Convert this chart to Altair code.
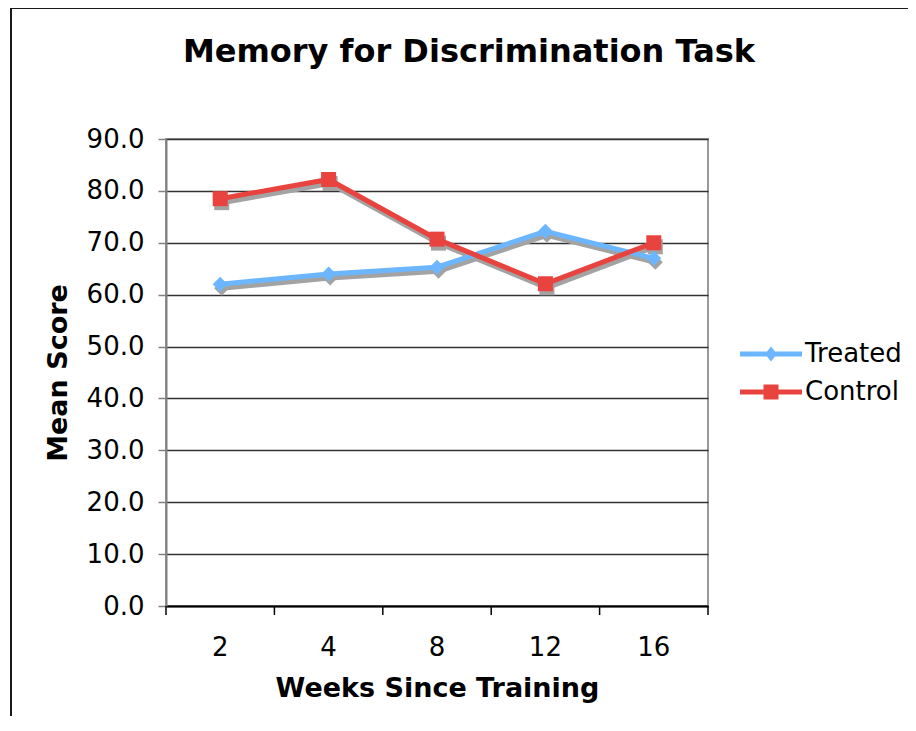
import altair as alt
import pandas as pd

# ---- data ----
weeks = ["2", "4", "8", "12", "16"]
treated = [62.0, 64.0, 65.3, 72.2, 67.0]
control = [78.5, 82.2, 70.7, 62.1, 70.0]
series_names = ["Treated", "Control"]
series_colors = ["#6CB6FF", "#E8433F"]
series_shapes = ["diamond", "square"]
y_ticks = [0, 10, 20, 30, 40, 50, 60, 70, 80, 90]

rows = []
for s, vals in zip(series_names, [treated, control]):
    for w, v in zip(weeks, vals):
        rows.append({"week": w, "series": s, "score": v})
df = pd.DataFrame(rows)
week_df = pd.DataFrame({"week": weeks})

W, H = 542, 467
FONT = "DejaVu Sans"

xscale = alt.Scale(type="band", domain=weeks, paddingInner=0, paddingOuter=0)
yscale = alt.Scale(domain=[0, 90], nice=False, zero=True)

x_axis = alt.Axis(
    title="Weeks Since Training", ticks=False, tickSize=0, labelPadding=28,
    labelAngle=0, labelFontSize=26, labelFont=FONT, labelColor="#000",
    domainColor="#000", domainWidth=2, grid=False,
    titleFont=FONT, titleFontSize=27, titleFontWeight="bold", titleColor="#000",
    titlePadding=15,
)
y_axis = alt.Axis(
    title="Mean Score", values=y_ticks, format=".1f", tickSize=8,
    tickColor="#808080", tickWidth=1.5, labelPadding=14, labelFontSize=26,
    labelFont=FONT, labelColor="#000", domainColor="#808080", domainWidth=2,
    grid=True, gridColor="#333333", gridWidth=1.5,
    titleFont=FONT, titleFontSize=27, titleFontWeight="bold", titleColor="#000",
    titlePadding=14,
)

X = alt.X("week:N", scale=xscale, axis=x_axis)
Y = alt.Y("score:Q", scale=yscale, axis=y_axis)

base = alt.Chart(df)

# decorative outer frame of the chart
frame = alt.Chart(alt.InlineData(values=[{"f": 1}])).mark_rect(
    fillOpacity=0, stroke="#1a1a1a", strokeWidth=2
).encode(
    x=alt.value(-155), x2=alt.value(900), y=alt.value(-131), y2=alt.value(800)
)

layers = [frame]

# x ticks at band boundaries
ticks_start = alt.Chart(week_df).mark_rule(color="#000", strokeWidth=1.5).encode(
    x=alt.X("week:N", scale=xscale, bandPosition=0, axis=x_axis),
    y=alt.value(H), y2=alt.value(H + 9),
)
ticks_end = alt.Chart(week_df).transform_filter(
    alt.datum.week == weeks[-1]
).mark_rule(color="#000", strokeWidth=1.5).encode(
    x=alt.X("week:N", scale=xscale, bandPosition=1, axis=x_axis),
    y=alt.value(H), y2=alt.value(H + 9),
)
layers += [ticks_start, ticks_end]

# shadows
for s, shp in zip(series_names, series_shapes):
    sub = base.transform_filter(alt.datum.series == s)
    layers.append(sub.mark_line(color="#A3A3A3", strokeWidth=5, xOffset=1.5, yOffset=4).encode(x=X, y=Y))
    layers.append(sub.mark_point(shape=shp, filled=True, size=225, color="#A3A3A3",
                                 opacity=1, xOffset=1.5, yOffset=4).encode(x=X, y=Y))

# series lines and markers
for s, col, shp in zip(series_names, series_colors, series_shapes):
    sub = base.transform_filter(alt.datum.series == s)
    layers.append(sub.mark_line(color=col, strokeWidth=5).encode(x=X, y=Y))
    layers.append(sub.mark_point(shape=shp, filled=True, size=225, color=col, opacity=1).encode(x=X, y=Y))

# legend carrier (no marks drawn)
path_treated = "M-3.1,-0.25L3.1,-0.25L3.1,0.25L-3.1,0.25Z M0,-0.75L0.6,0L0,0.75L-0.6,0Z"
path_control = "M-3.1,-0.25L3.1,-0.25L3.1,0.25L-3.1,0.25Z M-0.75,-0.75L0.75,-0.75L0.75,0.75L-0.75,0.75Z"
legend_layer = base.transform_filter("false").mark_point(filled=True, opacity=1).encode(
    color=alt.Color("series:N", scale=alt.Scale(domain=series_names, range=series_colors),
                    legend=alt.Legend(
                        title=None, orient="none", legendX=592, legendY=202,
                        symbolSize=400, symbolStrokeWidth=0, symbolOpacity=1,
                        labelFont=FONT, labelFontSize=26, labelColor="#000",
                        labelOffset=21, rowPadding=12, padding=0,
                    )),
    shape=alt.Shape("series:N", scale=alt.Scale(domain=series_names,
                                                range=[path_treated, path_control])),
)
layers.append(legend_layer)

chart = alt.layer(*layers).properties(
    width=W, height=H,
    title=alt.Title("Memory for Discrimination Task", font=FONT, fontSize=32,
                    fontWeight="bold", color="#000", anchor="middle", frame="group",
                    dx=32, offset=-62),
    autosize=alt.AutoSizeParams(type="none"),
    padding={"left": 158, "top": 131, "right": 200, "bottom": 110},
).configure(
    background="white",
    view=alt.ViewConfig(fill="#D6D6D6", stroke="#9A9A9A", strokeWidth=2),
)

chart.save("out.html", embed_options={"renderer": "svg", "actions": False})
